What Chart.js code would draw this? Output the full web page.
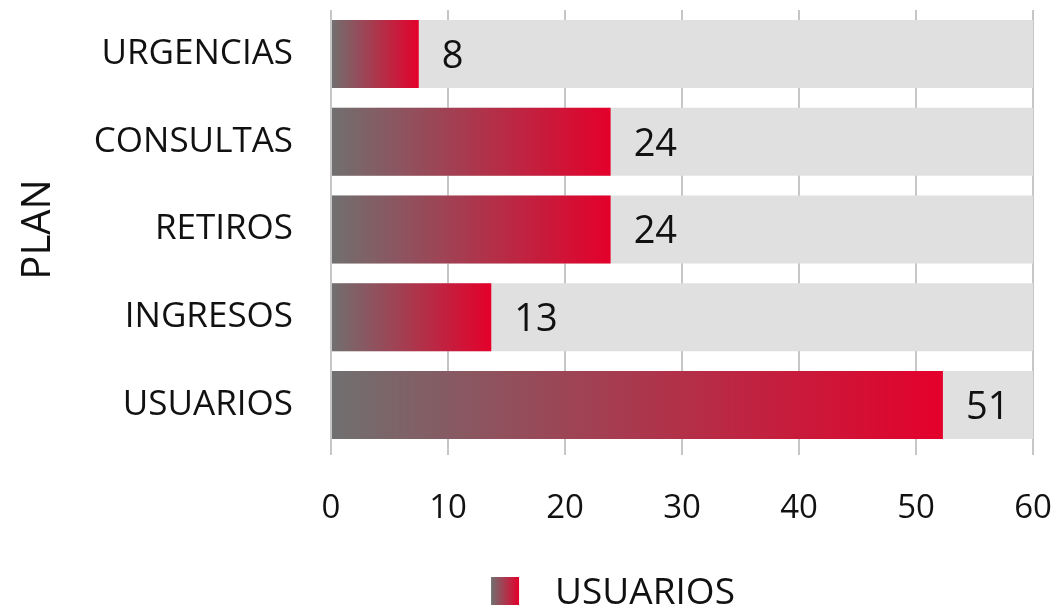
<!DOCTYPE html>
<html>
<head>
<meta charset="utf-8">
<script src="https://cdn.jsdelivr.net/npm/chart.js@4"></script>
<style>
  html, body { margin: 0; padding: 0; background: #fff; }
  #wrap { width: 1062px; height: 611px; }
</style>
</head>
<body>
<div id="wrap"><canvas id="myChart" width="1062" height="611"></canvas></div>
<script>
const categories = ['URGENCIAS', 'CONSULTAS', 'RETIROS', 'INGRESOS', 'USUARIOS'];
// bar lengths as drawn, and the numbers printed next to them
const usuarios = [7.5, 23.9, 23.9, 13.7, 52.3];
const valueLabels = ['8', '24', '24', '13', '51'];
const track = [60, 60, 60, 60, 60];
const xTicks = [0, 10, 20, 30, 40, 50, 60];

const FONT = '"Open Sans", sans-serif';
const GREY = '#707070';
const RED = '#e4002b';

function barGradient(c) {
  const chart = c.chart;
  if (!chart.chartArea) return RED;
  const x = chart.scales.x;
  const x0 = x.getPixelForValue(0);
  const x1 = x.getPixelForValue(c.raw);
  const g = chart.ctx.createLinearGradient(x0, 0, x1, 0);
  g.addColorStop(0, GREY);
  g.addColorStop(1, RED);
  return g;
}

// numbers at the end of each red bar
const valueLabelPlugin = {
  id: 'valueLabels',
  afterDatasetsDraw(chart) {
    const meta = chart.getDatasetMeta(0);
    const ctx = chart.ctx;
    ctx.save();
    ctx.font = '38px ' + FONT;
    ctx.fillStyle = '#111';
    ctx.textAlign = 'left';
    ctx.textBaseline = 'middle';
    meta.data.forEach((bar, i) => {
      ctx.fillText(valueLabels[i], bar.x + 23, bar.y + 3);
    });
    ctx.restore();
  }
};

// legend with a gradient swatch
const legendPlugin = {
  id: 'gradLegend',
  afterDraw(chart) {
    const ctx = chart.ctx;
    const label = chart.data.datasets[0].label;
    ctx.save();
    ctx.font = '37px ' + FONT;
    const tw = ctx.measureText(label).width;
    const box = 28, gap = 36;
    const left = 613 - (box + gap + tw) / 2;
    const cy = 591;
    const g = ctx.createLinearGradient(left, 0, left + box, 0);
    g.addColorStop(0, GREY);
    g.addColorStop(1, RED);
    ctx.fillStyle = g;
    ctx.fillRect(left, cy - box / 2, box, box);
    ctx.fillStyle = '#111';
    ctx.textBaseline = 'middle';
    ctx.fillText(label, left + box + gap, cy + 2);
    ctx.restore();
  }
};

const ctxt = document.getElementById('myChart').getContext('2d');

const myChart = new Chart(ctxt, {
  type: 'bar',
  data: {
    labels: categories,
    datasets: [
      {
        label: 'USUARIOS',
        data: usuarios,
        backgroundColor: barGradient,
        categoryPercentage: 1,
        barPercentage: 0.775,
        grouped: false,
        order: 0
      },
      {
        label: 'fondo',
        data: track,
        backgroundColor: '#e0e0e0',
        categoryPercentage: 1,
        barPercentage: 0.775,
        grouped: false,
        order: 1
      }
    ]
  },
  options: {
    indexAxis: 'y',
    responsive: false,
    animation: false,
    layout: { padding: { top: 10, right: 29, bottom: 84, left: 0 } },
    plugins: {
      legend: { display: false },
      tooltip: { enabled: false }
    },
    scales: {
      x: {
        min: 0,
        max: 60,
        afterBuildTicks: (axis) => { axis.ticks = xTicks.map(v => ({ value: v })); },
        afterFit: (axis) => {
          axis.height = 78;
          axis.paddingLeft = 0; axis.paddingRight = 0;
          axis.paddingTop = 0; axis.paddingBottom = 0;
        },
        grid: { color: '#c6c6c6', lineWidth: 2, tickLength: 6 },
        border: { display: false },
        ticks: { color: '#111', font: { family: FONT, size: 33 }, padding: 34 }
      },
      y: {
        afterFit: (axis) => { axis.width = 331; axis.paddingTop = 0; axis.paddingBottom = 0; },
        grid: { display: false, drawTicks: false },
        border: { display: false },
        ticks: { color: '#111', font: { family: FONT, size: 35 }, padding: 38 },
        title: {
          display: true,
          text: 'PLAN',
          color: '#111',
          font: { family: FONT, size: 40 },
          padding: { top: 15, bottom: 0 }
        }
      }
    }
  },
  plugins: [valueLabelPlugin, legendPlugin]
});
</script>
</body>
</html>
